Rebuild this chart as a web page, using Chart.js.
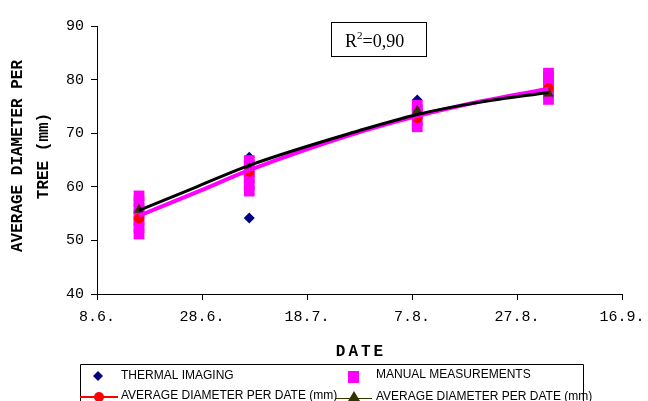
<!DOCTYPE html>
<html>
<head>
<meta charset="utf-8">
<style>
  html, body { margin: 0; padding: 0; background: #fff; }
  #wrap { width: 648px; height: 401px; }
</style>
<script src="https://cdn.jsdelivr.net/npm/chart.js@4.4.1/dist/chart.umd.min.js"></script>
</head>
<body>
<div id="wrap"><canvas id="chart" width="648" height="401"></canvas></div>
<script>
// measurement dates as day of the year (16.6., 7.7., 8.8., 2.9.)
const dates = [167, 188, 220, 245];

// x axis runs from 8.6. (day 159) to 16.9. (day 259), a tick every 20 days
const xTickLabels = ['8.6.', '28.6.', '18.7.', '7.8.', '27.8.', '16.9.'];
const yTicks = [40, 50, 60, 70, 80, 90];

// single trees per date
const thermal = [
  [55.0, 53.5],
  [65.5, 54.2, 62.0],
  [76.2, 73.0],
  [79.0, 77.0]
];
const manual = [
  [51.2, 52.4, 53.6, 54.8, 56.0, 57.2, 58.3],
  [59.2, 60.4, 61.6, 62.8, 64.0, 64.9],
  [71.2, 72.4, 73.6, 74.4, 75.2],
  [76.3, 77.4, 78.6, 79.8, 80.6, 81.2]
];

// averages per date
const avgManual = [54.1, 62.8, 72.8, 78.4];
const avgThermal = [55.7, 63.4, 74.2, 77.4];

// trend curves
const trendDays = [167, 178, 188, 209, 220, 232, 245];
const trendManual = [54.6, 59.0, 63.1, 70.2, 73.2, 75.9, 78.3];
const trendThermal = [55.6, 60.0, 64.0, 70.5, 73.5, 75.8, 77.6];

const toPoints = (xs, ys) => xs.map((x, i) => ({ x: x, y: ys[i] }));
const groupPoints = groups => groups.flatMap((vals, i) => vals.map(v => ({ x: dates[i], y: v })));

const NAVY = '#000080', MAGENTA = '#ff00ff', RED = '#ff0000', OLIVE = '#333300';

// legend, axis titles and the R2 box
const extras = {
  id: 'extras',
  afterDraw(chart) {
    const ctx = chart.ctx;
    ctx.save();
    ctx.fillStyle = '#000';

    // y title
    ctx.font = 'bold 16px "Liberation Mono", monospace';
    ctx.textAlign = 'center';
    ctx.textBaseline = 'middle';
    ctx.save();
    ctx.translate(18, 156);
    ctx.rotate(-Math.PI / 2);
    ctx.fillText('AVERAGE DIAMETER PER', 0, 0);
    ctx.fillText('TREE (mm)', 0, 26);
    ctx.restore();

    // x title
    ctx.letterSpacing = '3px';
    ctx.fillText('DATE', 361, 352);
    ctx.letterSpacing = '0px';

    // R2 box
    ctx.strokeStyle = '#000';
    ctx.lineWidth = 1;
    ctx.strokeRect(331.5, 22.5, 95, 34);
    ctx.textAlign = 'left';
    ctx.textBaseline = 'alphabetic';
    ctx.font = '18px "Liberation Serif", serif';
    ctx.fillText('R', 345, 47);
    let rw = ctx.measureText('R').width;
    ctx.font = '11px "Liberation Serif", serif';
    ctx.fillText('2', 345 + rw, 39);
    let sw = ctx.measureText('2').width;
    ctx.font = '18px "Liberation Serif", serif';
    ctx.fillText('=0,90', 345 + rw + sw, 47);

    // legend box
    ctx.beginPath();
    ctx.moveTo(80.5, 410);
    ctx.lineTo(80.5, 364.5);
    ctx.lineTo(583.5, 364.5);
    ctx.lineTo(583.5, 410);
    ctx.stroke();

    ctx.font = '12px "Liberation Sans", Arial, sans-serif';
    ctx.textBaseline = 'middle';
    ctx.fillText('THERMAL IMAGING', 121, 376);
    ctx.fillText('MANUAL MEASUREMENTS', 376, 375);
    ctx.fillText('AVERAGE DIAMETER PER DATE (mm)', 121, 396);
    ctx.fillText('AVERAGE DIAMETER PER DATE (mm)', 376, 397);

    // diamond
    ctx.fillStyle = NAVY;
    ctx.beginPath();
    ctx.moveTo(98, 371); ctx.lineTo(103, 376); ctx.lineTo(98, 381); ctx.lineTo(93, 376);
    ctx.closePath(); ctx.fill();
    // square
    ctx.fillStyle = MAGENTA;
    ctx.fillRect(348, 371, 11, 12);
    // red line with circle
    ctx.strokeStyle = RED; ctx.lineWidth = 2;
    ctx.beginPath(); ctx.moveTo(80, 397); ctx.lineTo(118, 397); ctx.stroke();
    ctx.fillStyle = RED;
    ctx.beginPath(); ctx.arc(99, 397, 5, 0, Math.PI * 2); ctx.fill();
    // olive line with triangle
    ctx.strokeStyle = OLIVE; ctx.lineWidth = 1;
    ctx.beginPath(); ctx.moveTo(336, 398.5); ctx.lineTo(372, 398.5); ctx.stroke();
    ctx.fillStyle = OLIVE;
    ctx.beginPath(); ctx.moveTo(354, 391); ctx.lineTo(360, 401); ctx.lineTo(348, 401);
    ctx.closePath(); ctx.fill();

    ctx.restore();
  }
};

new Chart(document.getElementById('chart'), {
  type: 'scatter',
  data: {
    datasets: [
      {
        label: 'THERMAL IMAGING',
        data: groupPoints(thermal),
        pointStyle: 'rectRot',
        pointRadius: 5.5,
        backgroundColor: NAVY,
        borderColor: NAVY,
        borderWidth: 0,
        order: 6
      },
      {
        label: 'MANUAL MEASUREMENTS',
        data: groupPoints(manual),
        pointStyle: 'rect',
        pointRadius: 7.6,
        backgroundColor: MAGENTA,
        borderColor: MAGENTA,
        borderWidth: 0,
        order: 5
      },
      {
        label: 'AVERAGE DIAMETER PER DATE (mm)',
        data: toPoints(dates, avgManual),
        pointStyle: 'circle',
        pointRadius: 5,
        backgroundColor: RED,
        borderColor: RED,
        borderWidth: 0,
        order: 4
      },
      {
        label: 'AVERAGE DIAMETER PER DATE (mm)',
        data: toPoints(dates, avgThermal),
        pointStyle: 'triangle',
        pointRadius: 6,
        backgroundColor: OLIVE,
        borderColor: OLIVE,
        borderWidth: 0,
        order: 3
      },
      {
        label: 'trend manual',
        data: toPoints(trendDays, trendManual),
        showLine: true,
        cubicInterpolationMode: 'monotone',
        borderColor: MAGENTA,
        borderWidth: 4,
        pointRadius: 0,
        order: 2
      },
      {
        label: 'trend thermal',
        data: toPoints(trendDays, trendThermal),
        showLine: true,
        cubicInterpolationMode: 'monotone',
        borderColor: '#000',
        borderWidth: 3,
        pointRadius: 0,
        order: 1
      }
    ]
  },
  options: {
    responsive: false,
    devicePixelRatio: 1,
    animation: false,
    layout: { padding: { top: 26, right: 26, left: 0, bottom: 0 } },
    plugins: { legend: { display: false }, tooltip: { enabled: false } },
    scales: {
      x: {
        type: 'linear',
        min: 159,
        max: 259,
        afterBuildTicks: s => { s.ticks = xTickLabels.map((t, i) => ({ value: 159 + i * 20 })); },
        afterFit: s => { s.height = 107; s.paddingLeft = 0; s.paddingRight = 0; },
        ticks: {
          callback: (v, i) => xTickLabels[i],
          color: '#000',
          padding: 8,
          maxRotation: 0,
          font: { family: '"Liberation Mono", monospace', size: 15 }
        },
        grid: { drawOnChartArea: false, tickLength: 6, color: '#000' },
        border: { color: '#000', width: 1 }
      },
      y: {
        min: 40,
        max: 90,
        afterBuildTicks: s => { s.ticks = yTicks.map(v => ({ value: v })); },
        afterFit: s => { s.width = 97; s.paddingTop = 0; s.paddingBottom = 0; },
        ticks: {
          color: '#000',
          padding: 7,
          font: { family: '"Liberation Mono", monospace', size: 15 }
        },
        grid: { drawOnChartArea: false, tickLength: 6, color: '#000' },
        border: { color: '#000', width: 1 }
      }
    }
  },
  plugins: [extras]
});
</script>
</body>
</html>
